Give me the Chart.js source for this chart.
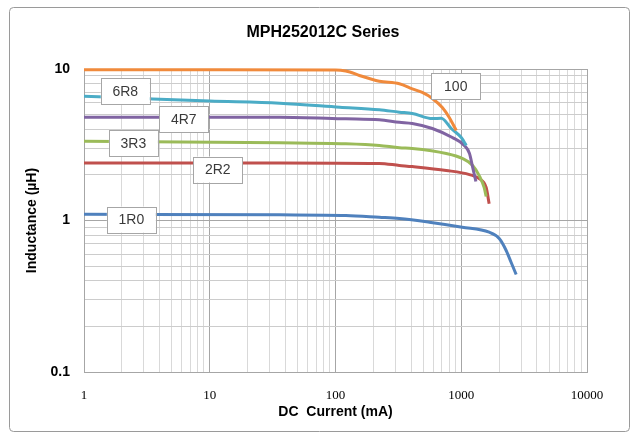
<!DOCTYPE html>
<html>
<head>
<meta charset="utf-8">
<script src="https://cdn.jsdelivr.net/npm/chart.js@4.4.1/dist/chart.umd.min.js"></script>
<style>
    body { margin: 0; background: #fff; }
</style>
</head>
<body>
<canvas id="inductorChart" width="631" height="433"></canvas>
<script>
// series (DC current in mA, inductance in uH)
const seriesNames = ['100', '6R8', '4R7', '3R3', '2R2', '1R0'];
const seriesColors = ['#F08A3C', '#4BACC6', '#8064A2', '#9BBB59', '#C0504D', '#4F81BD'];

const current100 = [1, 10, 100, 110, 130, 155, 223, 322, 408, 490, 589, 707, 803, 913];
const induct100 = [9.9, 9.9, 9.85, 9.8, 9.55, 9.06, 8.3, 7.99, 7.4, 7.0, 6.39, 5.57, 4.79, 3.93];

const current6R8 = [1, 3.3, 10, 36, 108, 223, 322, 408, 589, 694, 833, 1000, 1097];
const induct6R8 = [6.61, 6.36, 6.15, 5.95, 5.6, 5.38, 5.19, 5.09, 4.71, 4.73, 4.05, 3.53, 3.13];

const current4R7 = [1, 36, 121, 223, 322, 408, 589, 849, 1057, 1163, 1233, 1307];
const induct4R7 = [4.81, 4.81, 4.69, 4.62, 4.45, 4.37, 4.05, 3.53, 3.13, 2.77, 2.24, 1.81];

const current3R3 = [1, 36, 121, 223, 322, 408, 760, 1018, 1233, 1389, 1522, 1578];
const induct3R3 = [3.34, 3.26, 3.21, 3.13, 3.02, 2.99, 2.77, 2.57, 2.31, 1.98, 1.65, 1.44];

const current2R2 = [1, 36, 223, 322, 408, 760, 1163, 1389, 1578, 1667];
const induct2R2 = [2.40, 2.40, 2.38, 2.31, 2.27, 2.14, 2.01, 1.89, 1.65, 1.29];

const current1R0 = [1, 36, 121, 223, 322, 557, 1018, 1667, 2004, 2276, 2495, 2734];
const induct1R0 = [1.10, 1.09, 1.08, 1.05, 1.03, 0.974, 0.903, 0.837, 0.76, 0.634, 0.528, 0.44];

// where each series tag sits, in data units
const tagCurrent = [904, 2.13, 6.22, 2.47, 11.58, 2.38];
const tagInduct = [7.72, 7.13, 4.66, 3.25, 2.17, 1.015];

const xDecades = [1, 10, 100, 1000, 10000];
const yDecades = [0.1, 1, 10];

const currents = [current100, current6R8, current4R7, current3R3, current2R2, current1R0];
const inducts = [induct100, induct6R8, induct4R7, induct3R3, induct2R2, induct1R0];

function logTicks(decades) {
    let out = [];
    for (let i = 0; i < decades.length - 1; i++) {
        for (let k = 1; k <= 9; k++) out.push({ value: +(decades[i] * k).toPrecision(6) });
    }
    out.push({ value: decades[decades.length - 1] });
    return out;
}

function isMajor(v) {
    const l = Math.log10(v);
    return Math.abs(l - Math.round(l)) < 1e-9;
}

const datasets = seriesNames.map((name, i) => ({
    label: name,
    data: currents[i].map((c, j) => ({ x: c, y: inducts[i][j] })),
    borderColor: seriesColors[i],
    backgroundColor: seriesColors[i],
    borderWidth: 3,
    pointRadius: 0,
    showLine: true,
    clip: 4,
    cubicInterpolationMode: 'monotone'
}));

const frameAndTitle = {
    id: 'frameAndTitle',
    beforeDraw(chart) {
        const c = chart.ctx;
        c.save();
        c.fillStyle = '#fff';
        c.fillRect(0, 0, chart.width, chart.height);
        c.strokeStyle = '#9a9a9a';
        c.lineWidth = 1;
        c.beginPath();
        c.roundRect(9.5, 7.5, 620, 424, 4);
        c.stroke();
        c.restore();
    },
    afterDraw(chart) {
        const c = chart.ctx;
        c.save();
        c.fillStyle = '#000';
        c.font = 'bold 16px "Liberation Sans", Arial, sans-serif';
        c.textAlign = 'center';
        c.textBaseline = 'middle';
        c.fillText('MPH252012C Series', 323, 33);
        c.restore();
    }
};

const seriesTags = {
    id: 'seriesTags',
    afterDatasetsDraw(chart) {
        const c = chart.ctx;
        const xs = chart.scales.x, ys = chart.scales.y;
        c.save();
        c.font = '14px "Liberation Sans", Arial, sans-serif';
        c.textAlign = 'center';
        c.textBaseline = 'middle';
        seriesNames.forEach((name, i) => {
            const px = xs.getPixelForValue(tagCurrent[i]);
            const py = ys.getPixelForValue(tagInduct[i]);
            const w = 49, h = 26;
            c.fillStyle = '#fff';
            c.fillRect(px - w / 2, py - h / 2, w, h);
            c.strokeStyle = '#a6a6a6';
            c.lineWidth = 1;
            c.strokeRect(Math.round(px - w / 2) + 0.5, Math.round(py - h / 2) + 0.5, w, h);
            c.fillStyle = '#3a3a3a';
            c.fillText(name, px, py + 1);
        });
        c.restore();
    }
};

const ctx = document.getElementById('inductorChart').getContext('2d');
new Chart(ctx, {
    type: 'scatter',
    data: { datasets: datasets },
    plugins: [frameAndTitle, seriesTags],
    options: {
        responsive: false,
        animation: false,
        layout: { padding: { left: 10, right: 44, top: 69, bottom: 7 } },
        plugins: {
            legend: { display: false },
            tooltip: { enabled: false },
            title: { display: false }
        },
        scales: {
            x: {
                type: 'logarithmic',
                min: 1,
                max: 10000,
                afterBuildTicks: scale => { scale.ticks = logTicks(xDecades); },
                afterFit: scale => { scale.height = 54; },
                grid: {
                    drawTicks: false,
                    color: c => isMajor(c.tick.value) ? '#a6a6a6' : '#d9d9d9'
                },
                border: { display: true, color: '#a6a6a6' },
                ticks: {
                    autoSkip: false,
                    maxRotation: 0,
                    padding: 16,
                    color: '#000',
                    font: { family: '"Liberation Serif", "Times New Roman", serif', size: 13 },
                    callback: v => isMajor(v) ? String(Math.round(v)) : ''
                },
                title: {
                    display: true,
                    text: 'DC  Current (mA)',
                    color: '#000',
                    font: { family: '"Liberation Sans", Arial, sans-serif', size: 14, weight: 'bold' },
                    padding: { top: 0, bottom: 5 }
                }
            },
            y: {
                type: 'logarithmic',
                min: 0.1,
                max: 10,
                afterBuildTicks: scale => { scale.ticks = logTicks(yDecades); },
                afterFit: scale => { scale.width = 74; },
                grid: {
                    drawTicks: false,
                    color: c => isMajor(c.tick.value) ? '#a6a6a6' : '#cccccc'
                },
                border: { display: true, color: '#a6a6a6' },
                ticks: {
                    autoSkip: false,
                    padding: 14,
                    color: '#000',
                    font: { family: '"Liberation Sans", Arial, sans-serif', size: 14, weight: 'bold' },
                    callback: v => isMajor(v) ? (v < 1 ? v.toFixed(1) : String(Math.round(v))) : ''
                },
                title: {
                    display: true,
                    text: 'Inductance (µH)',
                    color: '#000',
                    font: { family: '"Liberation Sans", Arial, sans-serif', size: 14, weight: 'bold' },
                    padding: { top: 14, bottom: 0 }
                }
            }
        }
    }
});
</script>
</body>
</html>
